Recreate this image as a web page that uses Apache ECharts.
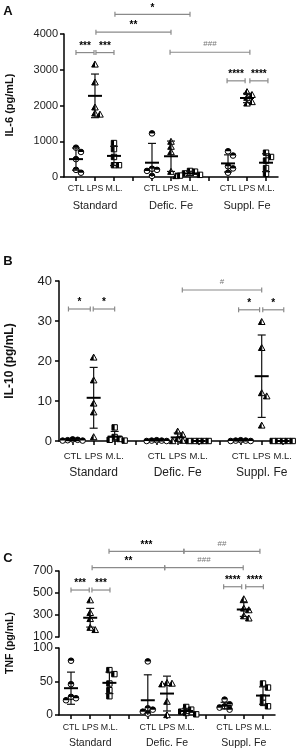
<!DOCTYPE html>
<html>
<head>
<meta charset="utf-8">
<script src="https://cdn.jsdelivr.net/npm/echarts@6/dist/echarts.min.js"></script>
<style>
  html, body { margin: 0; padding: 0; background: #fff; }
  #chart { width: 302px; height: 755px; }
</style>
</head>
<body>
<div id="chart"></div>
<script>
// x slots: three diets of three treatments, empty slots 3 and 7 between diets
const slots = [0, 1, 2, 4, 5, 6, 8, 9, 10];
const dietSlots = [1, 5, 9];
const treatments = ['CTL', 'LPS', 'M.L.'];
const diets = ['Standard', 'Defic. Fe', 'Suppl. Fe'];

// one array per group, same order as slots
const il6 = [
  [820, 700, 500, 200, 120],
  [3150, 2650, 1950, 1780, 1750],
  [950, 780, 560, 330, 330],
  [1220, 230, 200, 170, 30],
  [990, 850, 700, 150, 30],
  [170, 150, 100, 60, 40],
  [720, 600, 300, 240, 120],
  [2380, 2300, 2220, 2100, 2060],
  [680, 560, 460, 250, 90]
];
const il6Mean = [500, 2270, 590, 400, 580, 100, 380, 2210, 400];
const il6Sd = [310, 610, 270, 540, 425, 60, 240, 130, 250];

const il10 = [
  [0.4, 0.3, 0.2, 0.1, 0.1],
  [20.9, 15.2, 9.4, 7.2, 1.0],
  [3.4, 1.0, 0.5, 0.3, 0.1],
  [0.2, 0.1, 0.1, 0, 0],
  [2.4, 1.6, 0.6, 0.1, 0],
  [0, 0, 0, 0, 0],
  [0.2, 0.1, 0.1, 0, 0],
  [29.8, 23.3, 12.0, 11.2, 3.9],
  [0, 0, 0, 0, 0]
];
const il10Mean = [0.2, 10.8, 1.1, 0.1, 0.9, 0, 0.1, 16.2, 0];
const il10Sd = [0.1, 7.6, 1.3, 0.1, 1.1, 0, 0.1, 10.3, 0];

const tnf = [
  [81, 46, 27, 25, 22],
  [435, 320, 265, 185, 165],
  [67, 61, 47, 37, 28],
  [80, 10, 8, 5, 2],
  [48, 47, 46, 20, 0],
  [12, 8, 5, 3, 1],
  [23, 16, 13, 11, 8],
  [445, 360, 345, 290, 270],
  [47, 41, 26, 18, 13]
];
const tnfMean = [40, 275, 48, 22, 32, 6, 14, 350, 29];
const tnfSd = [24, 85, 16, 38, 26, 4, 5, 63, 13];

// significance brackets: [from slot, to slot, height, label]
const il6Brackets = [
  [0, 0.95, 3480, '***'], [1.05, 2, 3480, '***'],
  [1.05, 5, 4050, '**'], [2.05, 6, 4550, '*'],
  [4.95, 9.15, 3490, '###'],
  [7.95, 8.9, 2690, '****'], [9.15, 10.1, 2690, '****']
];
const il10Brackets = [
  [-0.2, 0.84, 33, '*'], [0.98, 2, 33, '*'],
  [5.22, 9, 37.75, '#'],
  [7.9, 8.9, 32.8, '*'], [9.05, 10.05, 32.8, '*']
];
const tnfBrackets = [
  [0, 0.95, 527, '***'], [1.09, 2.03, 527, '***'],
  [1.1, 4.88, 730, '**'], [4.88, 8.97, 730, '###'],
  [1.98, 5.88, 879, '***'], [5.88, 9.84, 879, '##'],
  [7.95, 8.89, 557, '****'], [9.1, 10.02, 557, '****']
];

const FONT = "'Liberation Sans', Arial, sans-serif";
const axisLine = { color: '#000', width: 1.5 };

function marker(kind, x, y) {
  const line = { fill: '#fff', stroke: '#000', lineWidth: 1 };
  if (kind === 0) {
    return [
      { type: 'circle', shape: { cx: x, cy: y, r: 2.8 }, style: line },
      { type: 'sector', shape: { cx: x, cy: y, r0: 0, r: 2.8, startAngle: Math.PI, endAngle: 2 * Math.PI }, style: { fill: '#000' } }
    ];
  }
  if (kind === 1) {
    return [
      { type: 'polygon', shape: { points: [[x, y - 3.3], [x + 3.3, y + 2.7], [x - 3.3, y + 2.7]] }, style: line },
      { type: 'polygon', shape: { points: [[x, y - 3.3], [x, y + 2.7], [x - 3.3, y + 2.7]] }, style: { fill: '#000' } }
    ];
  }
  return [
    { type: 'rect', shape: { x: x - 2.7, y: y - 2.7, width: 5.4, height: 5.4 }, style: line },
    { type: 'rect', shape: { x: x - 2.7, y: y - 2.7, width: 2.7, height: 5.4 }, style: { fill: '#000' } }
  ];
}

function groupSeries(axis, values, means, sds, yMin, pick) {
  const data = [];
  slots.forEach((s, i) => { if (pick(i)) data.push([s, means[i], i]); });
  return {
    type: 'custom', xAxisIndex: axis, yAxisIndex: axis, clip: false, silent: true,
    data,
    renderItem(params, api) {
      const x = api.value(0), i = api.value(2);
      const children = [];
      const placed = [];
      // spread points sideways when they would sit on top of each other
      values[i].forEach(v => {
        const p = api.coord([x, v]);
        let dx = 0;
        for (const off of [0, 5, -5, 10, -10, 15, -15]) {
          if (placed.every(q => Math.hypot(q[0] - p[0] - off, q[1] - p[1]) >= 5)) { dx = off; break; }
        }
        placed.push([p[0] + dx, p[1]]);
        children.push(...marker(i % 3, p[0] + dx, p[1]));
      });
      const m = means[i], sd = sds[i];
      const top = api.coord([x, m + sd]);
      const bot = api.coord([x, Math.max(m - sd, yMin)]);
      const mid = api.coord([x, m]);
      const ls = { stroke: '#111', lineWidth: 1.2 };
      children.push({ type: 'line', shape: { x1: top[0], y1: top[1], x2: bot[0], y2: bot[1] }, style: ls });
      children.push({ type: 'line', shape: { x1: top[0] - 4, y1: top[1], x2: top[0] + 4, y2: top[1] }, style: ls });
      if (m - sd > yMin) {
        children.push({ type: 'line', shape: { x1: bot[0] - 4, y1: bot[1], x2: bot[0] + 4, y2: bot[1] }, style: ls });
      }
      children.push({ type: 'line', shape: { x1: mid[0] - 7, y1: mid[1], x2: mid[0] + 7, y2: mid[1] }, style: { stroke: '#000', lineWidth: 2 } });
      return { type: 'group', children };
    }
  };
}

function bracketSeries(axis, list) {
  return {
    type: 'custom', xAxisIndex: axis, yAxisIndex: axis, clip: false, silent: true, z: 3,
    data: list.map(b => [b[0], b[2]]),
    renderItem(params, api) {
      const b = list[params.dataIndex];
      const a = api.coord([b[0], b[2]]), c = api.coord([b[1], b[2]]);
      const hash = b[3][0] === '#';
      const ls = { stroke: '#8a8a8a', lineWidth: 1.2 };
      return {
        type: 'group',
        children: [
          { type: 'line', shape: { x1: a[0], y1: a[1], x2: c[0], y2: c[1] }, style: ls },
          { type: 'line', shape: { x1: a[0], y1: a[1] - 2.5, x2: a[0], y2: a[1] + 2.5 }, style: ls },
          { type: 'line', shape: { x1: c[0], y1: c[1] - 2.5, x2: c[0], y2: c[1] + 2.5 }, style: ls },
          {
            type: 'text',
            style: {
              x: (a[0] + c[0]) / 2, y: a[1] - (hash ? 4 : 1.5), text: b[3],
              fill: hash ? '#777' : '#000',
              font: hash ? '8px ' + FONT : 'bold 10px ' + FONT,
              align: 'center', verticalAlign: 'bottom'
            }
          }
        ]
      };
    }
  };
}

// treatment axis: line, ticks at every slot, CTL / LPS / M.L. labels
function xAxis(grid, min, max, margin, size, show) {
  return {
    gridIndex: grid, type: 'value', min, max, show,
    splitLine: { show: false },
    axisLine: { onZero: false, lineStyle: axisLine },
    axisTick: { customValues: [0, 1, 2, 3, 4, 5, 6, 7, 8, 9, 10], length: 4, lineStyle: axisLine },
    axisLabel: {
      customValues: slots, margin, interval: 0, hideOverlap: false,
      fontSize: size, color: '#222', fontFamily: FONT,
      formatter: v => treatments[slots.indexOf(v) % 3]
    }
  };
}

// diet axis: labels only, under the treatment labels
function dietAxis(grid, min, max, margin, size) {
  return {
    gridIndex: grid, type: 'value', min, max, position: 'bottom',
    splitLine: { show: false }, axisLine: { show: false }, axisTick: { show: false },
    axisLabel: {
      customValues: dietSlots, margin, interval: 0, hideOverlap: false,
      fontSize: size, color: '#222', fontFamily: FONT,
      formatter: v => diets[dietSlots.indexOf(v)]
    }
  };
}

function yAxis(grid, min, max, interval, size, margin) {
  return {
    gridIndex: grid, type: 'value', min, max, interval,
    splitLine: { show: false },
    axisLine: { show: true, onZero: false, lineStyle: axisLine },
    axisTick: { show: true, length: 4, lineStyle: axisLine },
    axisLabel: { fontSize: size, color: '#222', margin, fontFamily: FONT, formatter: v => String(v) }
  };
}

function label(text, x, y, font, rotate) {
  return {
    type: 'text', x, y, rotation: rotate ? Math.PI / 2 : 0,
    style: { text, font, fill: '#111', align: 'center', verticalAlign: 'middle' }
  };
}

const chart = echarts.init(document.getElementById('chart'));
chart.setOption({
  animation: false,
  backgroundColor: '#fff',
  textStyle: { fontFamily: FONT },
  grid: [
    { left: 64, top: 34, width: 214, height: 143 },
    { left: 59, top: 281, width: 234, height: 160 },
    { left: 59, top: 571, width: 216, height: 66 },
    { left: 59, top: 648, width: 216, height: 67 }
  ],
  xAxis: [
    xAxis(0, -0.63, 10.63, 7, 8.8, true),
    xAxis(1, -0.65, 10.49, 10, 9.5, true),
    xAxis(2, -0.625, 10.625, 5, 8.8, false),
    xAxis(3, -0.625, 10.625, 8, 8.8, true),
    dietAxis(0, -0.63, 10.63, 23, 11),
    dietAxis(1, -0.65, 10.49, 26, 12),
    dietAxis(3, -0.625, 10.625, 23, 10.5)
  ],
  yAxis: [
    yAxis(0, 0, 4000, 1000, 11, 6),
    yAxis(1, 0, 40, 10, 13, 7),
    yAxis(2, 100, 700, 200, 12, 6),
    yAxis(3, 0, 100, 50, 12, 6)
  ],
  graphic: [
    label('A', 8, 11, 'bold 13px ' + FONT),
    label('B', 8, 261, 'bold 13px ' + FONT),
    label('C', 8, 558, 'bold 13px ' + FONT),
    label('IL-6 (pg/mL)', 10, 105, 'bold 11px ' + FONT, true),
    label('IL-10 (pg/mL)', 10, 361, 'bold 12px ' + FONT, true),
    label('TNF (pg/mL)', 10, 643, 'bold 10.5px ' + FONT, true)
  ],
  series: [
    groupSeries(0, il6, il6Mean, il6Sd, 0, () => true),
    groupSeries(1, il10, il10Mean, il10Sd, 0, () => true),
    groupSeries(2, tnf, tnfMean, tnfSd, 100, i => tnfMean[i] > 100),
    groupSeries(3, tnf, tnfMean, tnfSd, 0, i => tnfMean[i] <= 100),
    bracketSeries(0, il6Brackets),
    bracketSeries(1, il10Brackets),
    bracketSeries(2, tnfBrackets)
  ]
});
</script>
</body>
</html>
